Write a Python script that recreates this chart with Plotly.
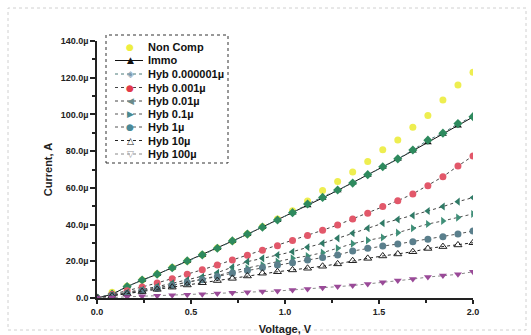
import plotly.graph_objects as go

voltage = [round(0.08 * k, 2) for k in range(26)]

non_comp = [0, 3.2, 6.4, 9.8, 13.1, 16.6, 20.1, 23.6, 27.3, 31.0, 34.8, 38.8, 43.0, 47.5,
            52.8, 58.5, 63.4, 68.6, 74.3, 80.7, 86.1, 93.0, 99.4, 107.9, 116.0, 123.0]
immo = [0, 2.0, 6.2, 9.8, 12.9, 16.5, 20.2, 23.4, 27.1, 31.0, 34.7, 38.6, 42.4, 46.4,
        50.4, 54.5, 58.6, 62.8, 67.0, 71.3, 75.7, 80.2, 84.7, 89.3, 93.9, 98.6]
hyb_1e6 = [0, 2.2, 6.2, 9.8, 13.0, 16.5, 20.2, 23.5, 27.1, 31.1, 34.8, 38.6, 42.5, 46.5,
           51.2, 54.8, 58.8, 62.6, 67.2, 71.5, 75.8, 80.6, 86.0, 89.8, 95.0, 98.8]
hyb_1e3 = [0, 1.9, 3.9, 6.0, 8.2, 10.5, 12.9, 15.4, 18.0, 20.7, 23.3, 26.0, 28.5, 31.3,
           34.0, 36.9, 39.8, 43.0, 46.2, 49.8, 53.0, 56.7, 61.2, 66.1, 71.9, 77.4]
hyb_1e2 = [0, 1.5, 3.0, 4.5, 6.2, 8.0, 9.8, 11.6, 13.8, 16.8, 19.8, 21.6, 23.4, 25.2,
           27.6, 29.8, 32.5, 35.3, 38.0, 40.7, 42.8, 44.9, 47.4, 49.8, 52.5, 54.7]
hyb_1e1 = [0, 1.3, 2.6, 4.0, 5.5, 7.0, 8.6, 10.2, 12.0, 14.6, 16.2, 18.0, 19.8, 21.6,
           22.9, 24.7, 27.1, 29.6, 31.4, 33.0, 35.6, 38.0, 40.3, 42.0, 43.8, 45.8]
hyb_1 = [0, 1.2, 2.5, 3.9, 5.3, 6.8, 8.4, 10.0, 11.7, 13.5, 15.0, 16.6, 18.0, 19.2,
         20.7, 22.0, 23.4, 25.6, 27.1, 28.3, 29.4, 30.7, 32.0, 33.4, 34.9, 36.5]
hyb_10 = [0, 1.1, 2.3, 3.5, 4.7, 5.9, 7.1, 8.3, 9.5, 10.7, 12.0, 13.5, 14.3, 15.3,
          16.2, 17.3, 18.6, 20.3, 21.6, 22.9, 24.0, 25.2, 27.0, 28.0, 28.9, 30.1]
hyb_100 = [0, 0.3, 0.6, 0.9, 1.2, 1.5, 1.8, 2.1, 2.5, 2.8, 3.1, 3.5, 3.8, 4.4,
           4.9, 5.6, 6.2, 6.8, 7.6, 8.6, 9.6, 10.3, 11.4, 12.2, 12.9, 14.3]

x_ticks = [0, 0.5, 1.0, 1.5, 2.0]
x_labels = ["0.0", "0.5", "1.0", "1.5", "2.0"]
y_ticks = [0, 20, 40, 60, 80, 100, 120, 140]
y_labels = ["0.0", "20.0µ", "40.0µ", "60.0µ", "80.0µ", "100.0µ", "120.0µ", "140.0µ"]

# name, values, marker colour, symbol, line dash, line colour, legend glyph, legend glyph colour
series = [
    ("Non Comp", non_comp, "#eeee50", "circle", None, "#eeee50", "●", "#eeee40"),
    ("Immo", immo, "#111111", "triangle-up", "solid", "#111111", "▲", "#111111"),
    ("Hyb 0.000001µ", hyb_1e6, "#2e8a5e", "diamond", "dot", "#4a7a78", "◈", "#7a9ab0"),
    ("Hyb 0.001µ", hyb_1e3, "#e2586a", "circle", "dot", "#444444", "●", "#e23a4a"),
    ("Hyb 0.01µ", hyb_1e2, "#2f7a66", "triangle-left", "dot", "#444444", "◀", "#6a8a8a"),
    ("Hyb 0.1µ", hyb_1e1, "#3f8f78", "triangle-right", "dot", "#555555", "▶", "#4a8a90"),
    ("Hyb 1µ", hyb_1, "#5a7f8c", "circle", "dot", "#555555", "●", "#4a8a98"),
    ("Hyb 10µ", hyb_10, "#222222", "triangle-up-open", "dot", "#222222", "△", "#222222"),
    ("Hyb 100µ", hyb_100, "#9a4a98", "triangle-down", "dot", "#888888", "▽", "#9a9aa0"),
]

fig = go.Figure()
for name, vals, color, sym, dash, lcolor, _, _ in series:
    if dash is None:
        fig.add_trace(go.Scatter(x=voltage, y=vals, name=name, mode="markers",
                                 marker=dict(symbol=sym, size=7, color=color)))
    else:
        fig.add_trace(go.Scatter(x=voltage, y=vals, name=name, mode="lines+markers",
                                 line=dict(color=lcolor, width=1, dash=dash),
                                 marker=dict(symbol=sym, size=7, color=color,
                                             line=dict(width=1 if "open" in sym else 0, color=color))))

# plot-area pixel geometry (for the hand-drawn legend box)
L, R, T, B = 97, 473, 41, 298
def px(x):
    return (x - L) / (R - L)
def py(y):
    return (B - y) / (B - T)

fig.add_shape(type="rect", xref="paper", yref="paper", x0=px(106), x1=px(228), y0=py(163), y1=py(35),
              line=dict(color="#333333", width=1, dash="dot"))
row_y = [47, 60.5, 74, 87.5, 101, 114, 127, 140.5, 154]
for (name, _, _, _, dash, lcolor, glyph, gcolor), ry in zip(series, row_y):
    if dash is not None:
        fig.add_shape(type="line", xref="paper", yref="paper", x0=px(115), x1=px(143),
                      y0=py(ry), y1=py(ry),
                      line=dict(color=lcolor, width=1, dash="dot" if dash == "dot" else "solid"))
    fig.add_annotation(xref="paper", yref="paper", x=px(130), y=py(ry), text=glyph,
                       showarrow=False, font=dict(size=9, color=gcolor, family="DejaVu Sans"),
                       xanchor="center", yanchor="middle")
    fig.add_annotation(xref="paper", yref="paper", x=px(146), y=py(ry), text="<b>" + name + "</b>",
                       showarrow=False, font=dict(size=11, color="#111111"),
                       xanchor="left", yanchor="middle")

fig.update_layout(
    width=531, height=335,
    margin=dict(l=L, r=531 - R, t=T, b=335 - B),
    paper_bgcolor="white", plot_bgcolor="white",
    font=dict(family="Liberation Sans, Arial, sans-serif", color="#222222"),
    showlegend=False,
    xaxis=dict(range=[0, 2.0], tickvals=x_ticks, ticktext=x_labels, ticks="outside",
               ticklen=4, tickwidth=1.5, tickcolor="#222", showline=True, linecolor="#222",
               linewidth=1.5, showgrid=False, zeroline=False, ticklabelstandoff=0,
               automargin=False,
               tickfont=dict(size=9, color="#222", weight="bold"),
               minor=dict(tickvals=[0.25, 0.75, 1.25, 1.75], ticks="outside", ticklen=3,
                          tickcolor="#222"),
               title=dict(text="Voltage, V", font=dict(size=11, weight="bold"), standoff=13)),
    yaxis=dict(range=[0, 140], tickvals=y_ticks, ticktext=y_labels, ticks="outside",
               ticklen=5, tickwidth=1.5, tickcolor="#222", showline=True, linecolor="#222",
               linewidth=1.5, showgrid=False, zeroline=False, automargin=False,
               tickfont=dict(size=9, color="#222", weight="bold"),
               minor=dict(tickvals=[10, 30, 50, 70, 90, 110, 130], ticks="outside", ticklen=3,
                          tickcolor="#222"),
               title=dict(text="Current, A", font=dict(size=11, weight="bold"), standoff=6)),
)

fig.add_shape(type="rect", xref="paper", yref="paper", x0=px(8), x1=px(526), y0=py(330), y1=py(8),
              line=dict(color="#d0d0d0", width=1, dash="dot"))

fig.write_html("out.html")
